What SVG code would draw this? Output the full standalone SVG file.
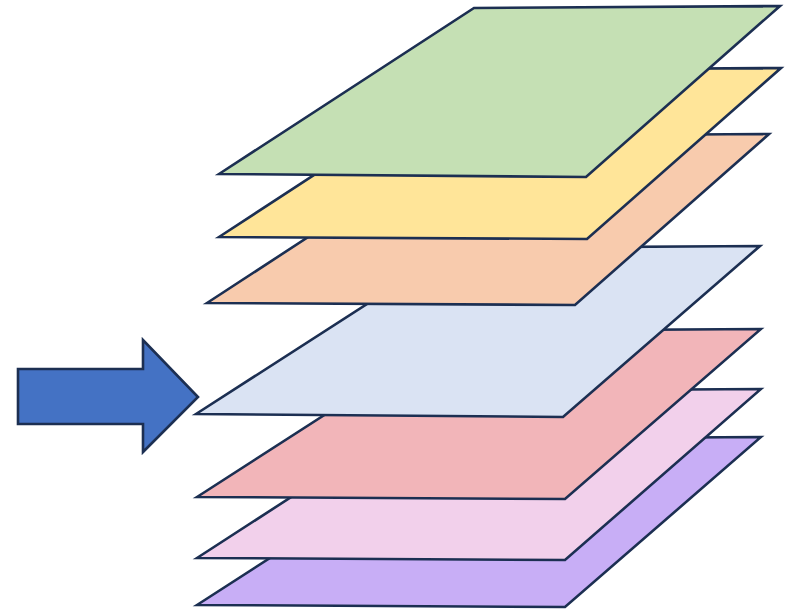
<svg xmlns="http://www.w3.org/2000/svg" width="787" height="610" viewBox="0 0 787 610">
<style>
.l{stroke:#1c2f52;stroke-width:2.6;stroke-linejoin:miter}
</style>
<rect width="787" height="610" fill="#ffffff"/>
<g id="layer-purple"><polygon class="l" fill="#c8aef6" points="197,605 455,439 761,437 565,607"/></g>
<g id="layer-pink"><polygon class="l" fill="#f2d0eb" points="197,558 455,391 761,389 565,560"/></g>
<g id="layer-red"><polygon class="l" fill="#f2b5b9" points="197,497 455,331 761,329 565,499"/></g>
<g id="layer-blue"><polygon class="l" fill="#dae3f3" points="196,414 454,248 760,246 563,417"/></g>
<g id="layer-orange"><polygon class="l" fill="#f8cbad" points="207,303 463,136 769,134 575,305"/></g>
<g id="layer-yellow"><polygon class="l" fill="#ffe599" points="219,237 475,70 781,68 587,239"/></g>
<g id="layer-green"><polygon class="l" fill="#c5e0b4" points="219,174 474,8 780,6 586,177"/></g>
<g id="arrow"><polygon class="l" fill="#4472c4" points="18,369 143,369 143,340 198,397 143,452 143,424 18,424"/></g>
</svg>
